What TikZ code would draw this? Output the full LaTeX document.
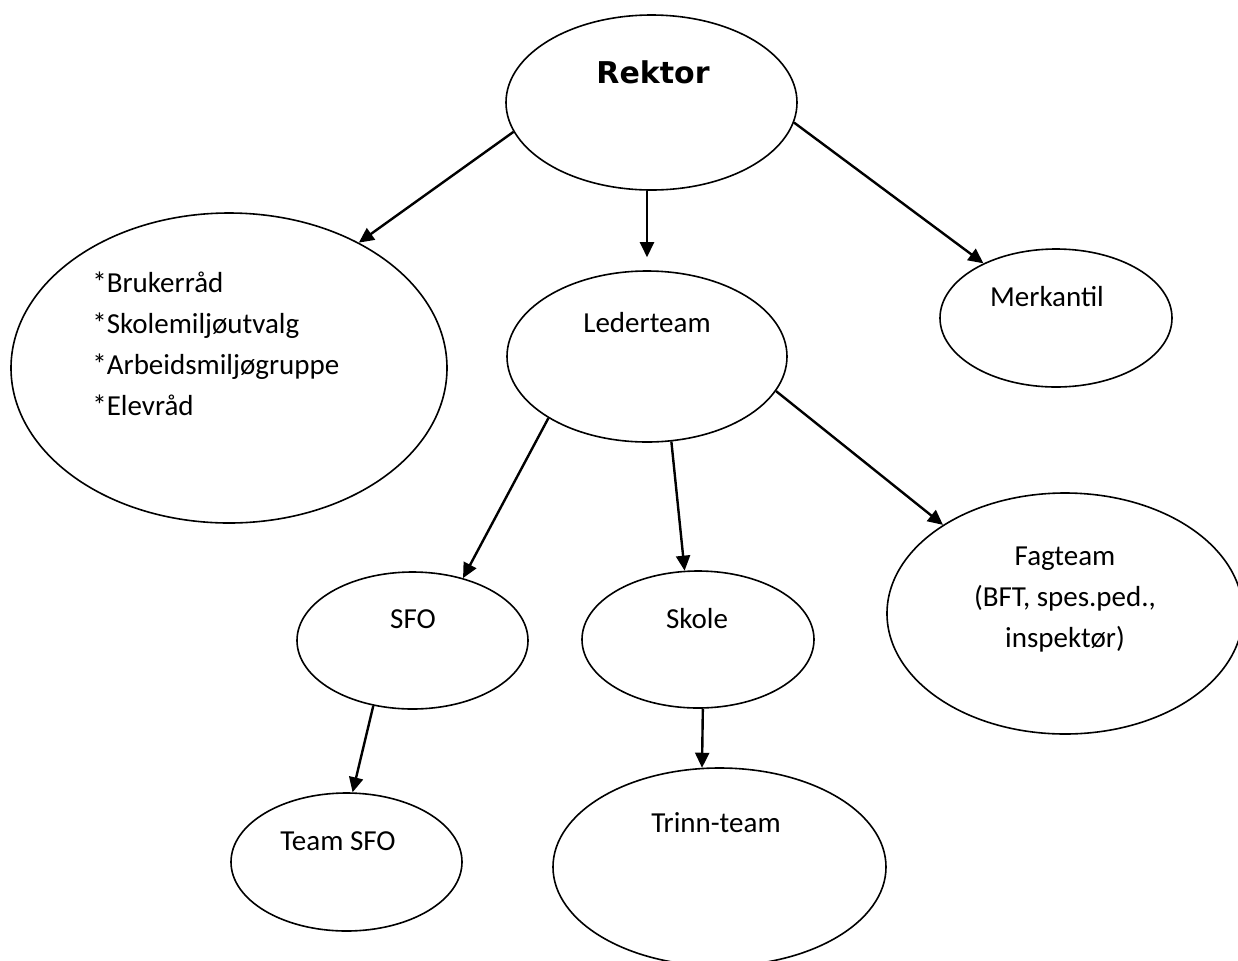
\documentclass[tikz,border=0pt]{standalone}
\usepackage{fontspec}
\setmainfont{Carlito}
\newfontfamily\headfont{DejaVu Sans}
\usepackage{tikz}
\usetikzlibrary{shapes,arrows,arrows.meta,positioning,calc}

\begin{document}
\begin{tikzpicture}[x=0.5pt, y=-0.5pt, >={Triangle[length=7.5pt,width=7pt]},
    orgbox/.style={draw, ellipse, line width=0.8pt, inner sep=0pt},
    orgtext/.style={inner sep=0pt, font=\fontsize{14.5}{20.5}\selectfont},
    headtext/.style={inner sep=0pt, font=\headfont\bfseries\fontsize{15}{18}\selectfont},
    orgarrow/.style={->, line width=1.2pt}]
    \useasboundingbox (0,0) rectangle (1238,960);

    % ellipses
    \node [orgbox, minimum width=145.5pt, minimum height=87.5pt] (rektor) at (651.5,102.5) {};
    \node [orgbox, minimum width=218pt, minimum height=155pt] (council) at (229,368) {};
    \node [orgbox, minimum width=140pt, minimum height=85.5pt] (lead) at (647,356.5) {};
    \node [orgbox, minimum width=116pt, minimum height=69pt] (merk) at (1056,318) {};
    \node [orgbox, minimum width=115.5pt, minimum height=68.5pt] (sfo) at (412.5,640.5) {};
    \node [orgbox, minimum width=116pt, minimum height=68.5pt] (skole) at (698,639.5) {};
    \node [orgbox, minimum width=178pt, minimum height=120.5pt] (fag) at (1065,613.5) {};
    \node [orgbox, minimum width=115.5pt, minimum height=69pt] (teamsfo) at (346.5,862) {};
    \node [orgbox, minimum width=166.5pt, minimum height=99pt] (trinn) at (719.5,867) {};

    % texts
    \node [headtext, anchor=base] (rektor-txt) at (653,83) {Rektor};
    \node [orgtext, anchor=west, align=left] (council-txt) at (92,344) {*Brukerråd\\*Skolemiljøutvalg\\*Arbeidsmiljøgruppe\\*Elevråd};
    \node [orgtext, anchor=base] (lead-txt) at (647,332) {Lederteam};
    \node [orgtext, anchor=base] (merk-txt) at (1047,306) {Merkantil};
    \node [orgtext, anchor=base] (sfo-txt) at (413,628) {SFO};
    \node [orgtext, anchor=base] (skole-txt) at (697,628) {Skole};
    \node [orgtext, align=center] (fag-txt) at (1065,600) {Fagteam\\(BFT, spes.ped.,\\inspektør)};
    \node [orgtext, anchor=base] (teamsfo-txt) at (338,850) {Team SFO};
    \node [orgtext, anchor=base] (trinn-txt) at (716,832) {Trinn-team};

    % arrows
    \draw [orgarrow] (rektor.192) -- (council.44);
    \draw [orgarrow, shorten >=6.5pt] (rektor.south -| lead.north) -- (lead.north);
    \draw [orgarrow] (rektor.352) -- (merk.143);
    \draw [orgarrow] (lead.212) -- (sfo.51);
    \draw [orgarrow] (lead.286) -- (skole.101);
    \draw [orgarrow] (lead.345) -- (fag.144);
    \draw [orgarrow] (sfo.239) -- (teamsfo.85);
    \draw [orgarrow] (skole.274) -- (trinn.100);
\end{tikzpicture}
\end{document}
